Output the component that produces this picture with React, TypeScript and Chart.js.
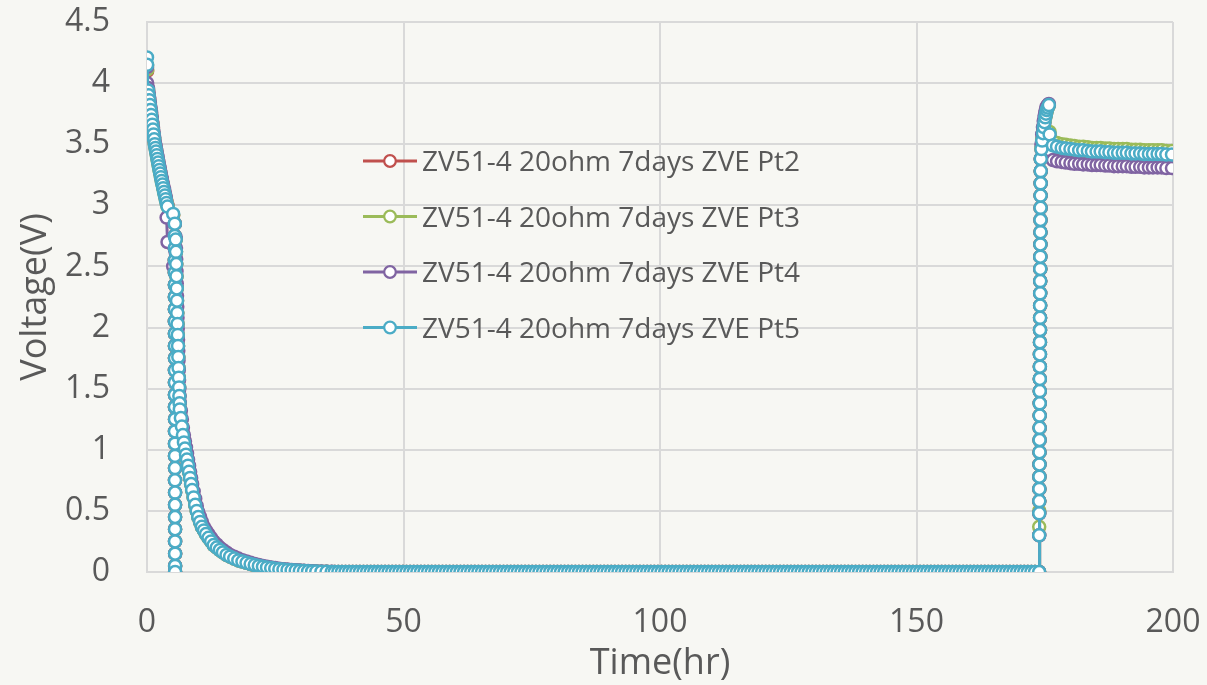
import React, { useEffect, useRef } from 'react';
import { Chart, registerables } from 'chart.js';

Chart.register(...registerables);

const seriesNames = [
  'ZV51-4 20ohm 7days ZVE Pt2',
  'ZV51-4 20ohm 7days ZVE Pt3',
  'ZV51-4 20ohm 7days ZVE Pt4',
  'ZV51-4 20ohm 7days ZVE Pt5',
];
const seriesColors = ['#c0504d', '#9bbb59', '#8064a2', '#4bacc6'];

// initial discharge (hr)
const dischargeTime = [0, 0.03, 0.2, 0.32, 0.44, 0.56, 0.68, 0.8, 0.92, 1.04, 1.16, 1.28, 1.4, 1.52, 1.65, 1.78, 1.91, 2.04, 2.17, 2.3, 2.44, 2.58, 2.72, 2.87, 3.02, 3.17, 3.33, 3.49, 3.65, 3.82, 4.0, 5.1];
const dischargePt2 = [4.14, 4.1, 3.95, 3.91, 3.87, 3.83, 3.79, 3.75, 3.71, 3.67, 3.63, 3.59, 3.55, 3.51, 3.48, 3.45, 3.42, 3.39, 3.36, 3.33, 3.3, 3.27, 3.24, 3.21, 3.18, 3.15, 3.12, 3.09, 3.06, 3.03, 3.0, 2.92];
const dischargePt3 = [4.15, 4.11, 3.94, 3.9, 3.86, 3.82, 3.78, 3.74, 3.7, 3.66, 3.62, 3.58, 3.54, 3.5, 3.47, 3.44, 3.41, 3.38, 3.35, 3.32, 3.29, 3.26, 3.23, 3.2, 3.17, 3.14, 3.11, 3.08, 3.05, 3.02, 2.99, 2.92];
const dischargePt4 = [4.13, 4.0, 3.96, 3.92, 3.88, 3.84, 3.8, 3.76, 3.72, 3.68, 3.64, 3.6, 3.56, 3.52, 3.49, 3.46, 3.43, 3.4, 3.37, 3.34, 3.31, 3.28, 3.25, 3.22, 3.19, 3.16, 3.13, 3.1, 3.07, 2.9, 2.7, 2.5];
const dischargePt5 = [4.21, 4.15, 3.94, 3.9, 3.86, 3.82, 3.78, 3.74, 3.7, 3.66, 3.62, 3.58, 3.54, 3.5, 3.47, 3.44, 3.41, 3.38, 3.35, 3.32, 3.29, 3.26, 3.23, 3.2, 3.17, 3.14, 3.11, 3.08, 3.05, 3.02, 2.99, 2.93];

// sudden drop column
const dropTime = [5.42, 5.42, 5.43, 5.43, 5.43, 5.44, 5.44, 5.44, 5.44, 5.45, 5.45, 5.45, 5.45, 5.45, 5.45, 5.45, 5.46, 5.46, 5.46, 5.46, 5.46, 5.46, 5.47, 5.47, 5.47, 5.47, 5.47, 5.48, 5.48, 5.48];
const dropVolts = [2.85, 2.75, 2.65, 2.55, 2.45, 2.35, 2.25, 2.15, 2.05, 1.95, 1.85, 1.75, 1.65, 1.55, 1.45, 1.35, 1.25, 1.15, 1.05, 0.95, 0.85, 0.75, 0.65, 0.55, 0.45, 0.35, 0.25, 0.15, 0.05, 0];

// decay tail
const decayTime = [5.6, 5.65, 5.7, 5.75, 5.8, 5.85, 5.9, 5.95, 6.0, 6.05, 6.1, 6.15, 6.2, 6.25, 6.3, 6.35, 6.4, 6.6, 6.8, 7.0, 7.2, 7.4, 7.6, 7.8, 8.0, 8.2, 8.4, 8.6, 8.8, 9.1, 9.4, 9.7, 10.0, 10.35, 10.7, 11.1, 11.5, 12.0, 12.5, 13.0, 13.6, 14.2, 14.8, 15.5, 16.2, 17.0, 17.8, 18.6, 19.4, 20.2, 21.0, 21.8, 22.6, 23.4, 24.2, 25.0, 25.8, 26.6, 27.4, 28.2, 29.0, 29.8, 30.6, 31.4, 32.2, 33.0, 34.0, 35.0, 36.0];
const decayVolts = [2.72, 2.62, 2.52, 2.42, 2.32, 2.22, 2.12, 2.03, 1.94, 1.85, 1.76, 1.67, 1.59, 1.51, 1.44, 1.38, 1.33, 1.26, 1.19, 1.12, 1.06, 1.01, 0.96, 0.92, 0.87, 0.82, 0.77, 0.72, 0.67, 0.61, 0.55, 0.5, 0.45, 0.41, 0.37, 0.34, 0.31, 0.28, 0.25, 0.22, 0.2, 0.18, 0.16, 0.14, 0.125, 0.11, 0.095, 0.085, 0.075, 0.065, 0.057, 0.05, 0.043, 0.037, 0.032, 0.027, 0.023, 0.02, 0.017, 0.014, 0.012, 0.01, 0.008, 0.006, 0.005, 0.004, 0.003, 0.002, 0.001];
const decayPt4 = [2.74, 2.65, 2.56, 2.46, 2.36, 2.26, 2.17, 2.08, 1.99, 1.9, 1.81, 1.73, 1.65, 1.57, 1.5, 1.44, 1.39, 1.32, 1.25, 1.18, 1.12, 1.07, 1.02, 0.97, 0.92, 0.87, 0.82, 0.77, 0.72, 0.66, 0.6, 0.54, 0.49, 0.45, 0.41, 0.37, 0.34, 0.31, 0.28, 0.25, 0.225, 0.2, 0.18, 0.16, 0.14, 0.125, 0.11, 0.097, 0.086, 0.075, 0.066, 0.058, 0.05, 0.043, 0.037, 0.032, 0.027, 0.023, 0.02, 0.017, 0.014, 0.012, 0.01, 0.008, 0.006, 0.005, 0.004, 0.003, 0.002];

// rest period at zero (logged about every 0.7 hr)
const restTime = [36.6, 37.3, 38.0, 38.7, 39.4, 40.1, 40.8, 41.5, 42.2, 42.9,
  43.6, 44.3, 45.0, 45.7, 46.4, 47.1, 47.8, 48.5, 49.2, 49.9,
  50.6, 51.3, 52.0, 52.7, 53.4, 54.1, 54.8, 55.5, 56.2, 56.9,
  57.6, 58.3, 59.0, 59.7, 60.4, 61.1, 61.8, 62.5, 63.2, 63.9,
  64.6, 65.3, 66.0, 66.7, 67.4, 68.1, 68.8, 69.5, 70.2, 70.9,
  71.6, 72.3, 73.0, 73.7, 74.4, 75.1, 75.8, 76.5, 77.2, 77.9,
  78.6, 79.3, 80.0, 80.7, 81.4, 82.1, 82.8, 83.5, 84.2, 84.9,
  85.6, 86.3, 87.0, 87.7, 88.4, 89.1, 89.8, 90.5, 91.2, 91.9,
  92.6, 93.3, 94.0, 94.7, 95.4, 96.1, 96.8, 97.5, 98.2, 98.9,
  99.6, 100.3, 101.0, 101.7, 102.4, 103.1, 103.8, 104.5, 105.2, 105.9,
  106.6, 107.3, 108.0, 108.7, 109.4, 110.1, 110.8, 111.5, 112.2, 112.9,
  113.6, 114.3, 115.0, 115.7, 116.4, 117.1, 117.8, 118.5, 119.2, 119.9,
  120.6, 121.3, 122.0, 122.7, 123.4, 124.1, 124.8, 125.5, 126.2, 126.9,
  127.6, 128.3, 129.0, 129.7, 130.4, 131.1, 131.8, 132.5, 133.2, 133.9,
  134.6, 135.3, 136.0, 136.7, 137.4, 138.1, 138.8, 139.5, 140.2, 140.9,
  141.6, 142.3, 143.0, 143.7, 144.4, 145.1, 145.8, 146.5, 147.2, 147.9,
  148.6, 149.3, 150.0, 150.7, 151.4, 152.1, 152.8, 153.5, 154.2, 154.9,
  155.6, 156.3, 157.0, 157.7, 158.4, 159.1, 159.8, 160.5, 161.2, 161.9,
  162.6, 163.3, 164.0, 164.7, 165.4, 166.1, 166.8, 167.5, 168.2, 168.9,
  169.6, 170.3, 171.0, 171.7, 172.4, 173.1, 173.9];
const restVolts = [0, 0, 0, 0, 0, 0, 0, 0, 0, 0,
  0, 0, 0, 0, 0, 0, 0, 0, 0, 0,
  0, 0, 0, 0, 0, 0, 0, 0, 0, 0,
  0, 0, 0, 0, 0, 0, 0, 0, 0, 0,
  0, 0, 0, 0, 0, 0, 0, 0, 0, 0,
  0, 0, 0, 0, 0, 0, 0, 0, 0, 0,
  0, 0, 0, 0, 0, 0, 0, 0, 0, 0,
  0, 0, 0, 0, 0, 0, 0, 0, 0, 0,
  0, 0, 0, 0, 0, 0, 0, 0, 0, 0,
  0, 0, 0, 0, 0, 0, 0, 0, 0, 0,
  0, 0, 0, 0, 0, 0, 0, 0, 0, 0,
  0, 0, 0, 0, 0, 0, 0, 0, 0, 0,
  0, 0, 0, 0, 0, 0, 0, 0, 0, 0,
  0, 0, 0, 0, 0, 0, 0, 0, 0, 0,
  0, 0, 0, 0, 0, 0, 0, 0, 0, 0,
  0, 0, 0, 0, 0, 0, 0, 0, 0, 0,
  0, 0, 0, 0, 0, 0, 0, 0, 0, 0,
  0, 0, 0, 0, 0, 0, 0, 0, 0, 0,
  0, 0, 0, 0, 0, 0, 0, 0, 0, 0,
  0, 0, 0, 0, 0, 0, 0];

// recovery after load removal
const recoveryTime = [173.92, 173.93, 173.94, 173.95, 173.96, 173.97, 173.98, 173.99, 174.0, 174.01, 174.02, 174.03, 174.04, 174.05, 174.06, 174.07, 174.08, 174.09, 174.1, 174.11, 174.12, 174.13, 174.14, 174.15, 174.16, 174.17, 174.18, 174.19, 174.2, 174.21, 174.22, 174.35, 174.5, 174.65, 174.8, 174.95, 175.1, 175.25, 175.4, 175.6, 175.8];
const recoveryPt5 = [0.3, 0.48, 0.58, 0.68, 0.78, 0.88, 0.98, 1.08, 1.18, 1.28, 1.38, 1.48, 1.58, 1.68, 1.78, 1.88, 1.98, 2.08, 2.18, 2.28, 2.38, 2.48, 2.58, 2.68, 2.78, 2.88, 2.98, 3.08, 3.18, 3.28, 3.38, 3.46, 3.53, 3.59, 3.64, 3.68, 3.72, 3.75, 3.78, 3.8, 3.82];
const recoveryPt3 = [0.37, 0.5, 0.58, 0.68, 0.78, 0.88, 0.98, 1.08, 1.18, 1.28, 1.38, 1.48, 1.58, 1.68, 1.78, 1.88, 1.98, 2.08, 2.18, 2.28, 2.38, 2.48, 2.58, 2.68, 2.78, 2.88, 2.98, 3.08, 3.18, 3.28, 3.38, 3.47, 3.54, 3.6, 3.65, 3.69, 3.72, 3.75, 3.78, 3.8, 3.82];
const recoveryPt4 = [0.3, 0.48, 0.58, 0.68, 0.78, 0.88, 0.98, 1.08, 1.18, 1.28, 1.38, 1.48, 1.58, 1.68, 1.78, 1.88, 1.98, 2.08, 2.18, 2.28, 2.38, 2.48, 2.58, 2.68, 2.78, 2.88, 2.98, 3.08, 3.18, 3.28, 3.38, 3.5, 3.58, 3.64, 3.69, 3.73, 3.76, 3.79, 3.81, 3.82, 3.83];

// plateau after recovery
const plateauTime = [175.95, 176.6, 177.4, 178.3, 179.1, 180.0, 180.8, 181.7, 182.5, 183.4, 184.2, 185.1, 185.9, 186.8, 187.6, 188.5, 189.3, 190.2, 191.0, 191.9, 192.7, 193.6, 194.4, 195.3, 196.1, 197.0, 197.8, 198.7, 199.8];
const plateauPt2 = [3.57, 3.48, 3.47, 3.46, 3.455, 3.45, 3.445, 3.44, 3.435, 3.43, 3.43, 3.425, 3.42, 3.42, 3.415, 3.415, 3.41, 3.41, 3.41, 3.405, 3.405, 3.4, 3.4, 3.4, 3.4, 3.395, 3.395, 3.395, 3.39];
const plateauPt3 = [3.6, 3.52, 3.51, 3.5, 3.495, 3.49, 3.485, 3.48, 3.48, 3.475, 3.47, 3.47, 3.47, 3.465, 3.465, 3.46, 3.46, 3.46, 3.46, 3.455, 3.455, 3.455, 3.45, 3.45, 3.45, 3.45, 3.45, 3.445, 3.445];
const plateauPt4 = [3.45, 3.37, 3.36, 3.355, 3.35, 3.345, 3.34, 3.34, 3.335, 3.335, 3.33, 3.33, 3.33, 3.325, 3.325, 3.32, 3.32, 3.32, 3.32, 3.315, 3.315, 3.315, 3.31, 3.31, 3.31, 3.31, 3.31, 3.305, 3.305];
const plateauPt5 = [3.58, 3.49, 3.48, 3.47, 3.465, 3.46, 3.455, 3.45, 3.45, 3.445, 3.44, 3.44, 3.44, 3.435, 3.435, 3.43, 3.43, 3.43, 3.43, 3.425, 3.425, 3.425, 3.42, 3.42, 3.42, 3.42, 3.42, 3.415, 3.415];

function joinSegments(segments: [number[], number[]][]) {
  const pts: { x: number; y: number }[] = [];
  segments.forEach(([ts, vs]) => {
    ts.forEach((t, i) => pts.push({ x: t, y: vs[i] }));
  });
  return pts;
}

const seriesPoints = [
  joinSegments([[dischargeTime, dischargePt2], [dropTime, dropVolts], [decayTime, decayVolts], [restTime, restVolts], [recoveryTime, recoveryPt5], [plateauTime, plateauPt2]]),
  joinSegments([[dischargeTime, dischargePt3], [dropTime, dropVolts], [decayTime, decayVolts], [restTime, restVolts], [recoveryTime, recoveryPt3], [plateauTime, plateauPt3]]),
  joinSegments([[dischargeTime, dischargePt4], [dropTime, dropVolts], [decayTime, decayPt4], [restTime, restVolts], [recoveryTime, recoveryPt4], [plateauTime, plateauPt4]]),
  joinSegments([[dischargeTime, dischargePt5], [dropTime, dropVolts], [decayTime, decayVolts], [restTime, restVolts], [recoveryTime, recoveryPt5], [plateauTime, plateauPt5]]),
];

const FONT = "'Open Sans', sans-serif";
const TEXT = '#595959';
const GRID = '#d9d9d9';

const legendPlugin = {
  id: 'insideLegend',
  afterDatasetsDraw(chart: any) {
    const ctx = chart.ctx;
    ctx.save();
    seriesNames.forEach((name, i) => {
      const y = 161 + i * 55.5;
      ctx.strokeStyle = seriesColors[i];
      ctx.lineWidth = 3;
      ctx.beginPath();
      ctx.moveTo(363, y);
      ctx.lineTo(417, y);
      ctx.stroke();
      ctx.beginPath();
      ctx.arc(390, y, 5.8, 0, Math.PI * 2);
      ctx.fillStyle = '#ffffff';
      ctx.fill();
      ctx.lineWidth = 2.2;
      ctx.stroke();
      ctx.fillStyle = TEXT;
      ctx.font = `28px ${FONT}`;
      ctx.textAlign = 'left';
      ctx.textBaseline = 'alphabetic';
      ctx.fillText(name, 422, y + 10);
    });
    ctx.restore();
  },
};

const zeroPadding = (scale: any) => {
  scale.paddingTop = 0;
  scale.paddingBottom = 0;
  scale.paddingLeft = 0;
  scale.paddingRight = 0;
};

export default function App() {
  const canvasRef = useRef<HTMLCanvasElement | null>(null);

  useEffect(() => {
    if (!canvasRef.current) return;
    Chart.defaults.font.family = FONT;
    const chart = new Chart(canvasRef.current, {
      type: 'line',
      data: {
        datasets: seriesNames.map((name, i) => ({
          label: name,
          data: seriesPoints[i],
          borderColor: seriesColors[i],
          backgroundColor: '#ffffff',
          borderWidth: 3,
          pointRadius: 6,
          pointBorderWidth: 2.5,
          pointBackgroundColor: '#ffffff',
          pointBorderColor: seriesColors[i],
          tension: 0,
          order: seriesNames.length - 1 - i,
        })),
      },
      options: {
        animation: false,
        responsive: false,
        parsing: false as any,
        layout: { padding: { top: 22, right: 34, left: 0, bottom: 0 } },
        plugins: { legend: { display: false }, tooltip: { enabled: false } },
        scales: {
          x: {
            type: 'linear',
            min: 0,
            max: 200,
            ticks: { stepSize: 50, color: TEXT, font: { size: 32 }, padding: 32 },
            grid: { color: GRID, lineWidth: 2, drawTicks: false },
            border: { color: GRID, width: 2 },
            title: { display: true, text: 'Time(hr)', color: TEXT, font: { size: 36 }, padding: { top: 0, bottom: 0 } },
            afterFit: (scale: any) => { scale.height = 113; zeroPadding(scale); },
          },
          y: {
            type: 'linear',
            min: 0,
            max: 4.5,
            ticks: {
              stepSize: 0.5,
              color: TEXT,
              font: { size: 32 },
              padding: 37,
              callback: (v: any) => String(Number(v)),
            },
            grid: { color: GRID, lineWidth: 2, drawTicks: false },
            border: { color: GRID, width: 2 },
            title: { display: true, text: 'Voltage(V)', color: TEXT, font: { size: 36 }, padding: { top: 14, bottom: 0 } },
            afterFit: (scale: any) => { scale.width = 147; zeroPadding(scale); },
          },
        },
      },
      plugins: [legendPlugin],
    });
    return () => chart.destroy();
  }, []);

  return (
    <div style={{ position: 'absolute', left: 0, top: 0, width: 1207, height: 685, background: '#f7f7f3' }}>
      <canvas ref={canvasRef} width={1207} height={685} />
    </div>
  );
}
